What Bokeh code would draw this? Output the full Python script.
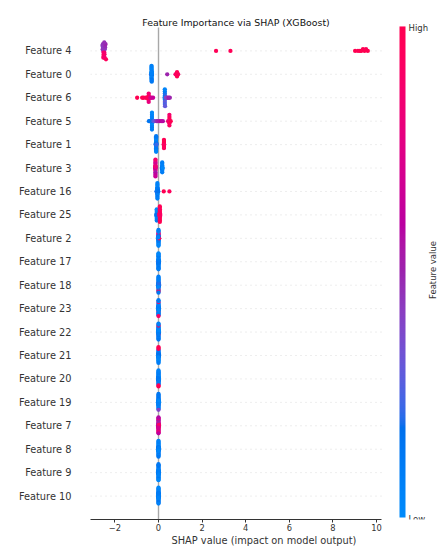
import numpy as np
from bokeh.plotting import figure
from bokeh.models import Range1d, FixedTicker, LinearColorMapper, ColumnDataSource
from bokeh.transform import linear_cmap
from bokeh.embed import file_html
from bokeh.resources import INLINE
from bokeh.core.properties import value

# ---------------- data ----------------
FEATURE_NAMES = ["Feature 4", "Feature 0", "Feature 6", "Feature 5", "Feature 1",
                 "Feature 3", "Feature 16", "Feature 25", "Feature 2", "Feature 17",
                 "Feature 18", "Feature 23", "Feature 22", "Feature 21", "Feature 20",
                 "Feature 19", "Feature 7", "Feature 8", "Feature 9", "Feature 10"]

X_TICKS = [-2, 0, 2, 4, 6, 8, 10]
X_TICK_LABELS = ["\u22122", "0", "2", "4", "6", "8", "10"]

f4_shap = [-2.53, -2.50, -2.56, -2.47, -2.52, -2.49, -2.54, -2.45, -2.51, -2.48,
           -2.57, -2.46, -2.52, -2.50, -2.55, -2.43, -2.53, -2.47, -2.49, -2.41,
           2.64, 3.30, 9.02, 9.15, 9.24, 9.30, 9.38, 9.45, 9.52, 9.60]
f4_val = [0.62, 0.65, 0.45, 0.42, 0.85, 0.88, 0.44, 0.46, 0.90, 0.86,
          0.43, 0.48, 0.88, 0.92, 0.45, 0.50, 0.90, 0.85, 0.47, 0.95,
          0.97, 0.98, 1.00, 1.00, 0.98, 1.00, 0.99, 1.00, 0.97, 1.00]

f0_shap = [-0.32, -0.32, -0.31, -0.33, -0.32, -0.32, -0.31, -0.34, -0.32, -0.32,
           -0.30, -0.32, -0.33, -0.32, -0.31, -0.32, -0.32, -0.30, -0.32, -0.31,
           -0.32, 0.40, 0.78, 0.85, 0.83, 0.85, 0.85, 0.90, 0.85, 0.85]
f0_val = [0.05, 0.10, 0.12, 0.08, 0.00, 0.15, 0.05, 0.20, 0.02, 0.10,
          0.12, 0.06, 0.00, 0.09, 0.14, 0.03, 0.11, 0.07, 0.04, 0.13,
          0.08, 0.50, 0.85, 0.95, 0.90, 1.00, 0.92, 0.88, 0.97, 1.00]

f6_shap = [0.29, 0.29, 0.31, 0.29, 0.35, 0.29, 0.28, 0.29, 0.40, 0.29,
           0.33, 0.29, 0.46, 0.29, 0.30, 0.52, -0.45, -0.45, -0.46, -0.45,
           -0.44, -0.45, -0.52, -0.38, -0.58, -0.32, -0.25, -0.75, -0.68, -0.98]
f6_val = [0.05, 0.15, 0.35, 0.10, 0.45, 0.20, 0.08, 0.30, 0.50, 0.12,
          0.40, 0.25, 0.55, 0.05, 0.30, 0.50, 0.95, 1.00, 0.90, 0.85,
          0.95, 0.80, 1.00, 0.75, 0.98, 0.70, 0.65, 1.00, 0.98, 1.00]

f5_shap = [-0.30, -0.30, -0.28, -0.30, -0.33, -0.30, -0.26, -0.30, -0.36, -0.30,
           -0.40, -0.30, -0.22, -0.30, -0.44, -0.30, -0.18, -0.10, -0.04, 0.04,
           0.12, 0.20, 0.50, 0.50, 0.44, 0.50, 0.50, 0.56, 0.50, 0.50]
f5_val = [0.05, 0.10, 0.15, 0.00, 0.20, 0.08, 0.12, 0.03, 0.18, 0.06,
          0.22, 0.10, 0.25, 0.02, 0.15, 0.09, 0.30, 0.45, 0.50, 0.55,
          0.60, 0.58, 0.90, 1.00, 0.85, 0.95, 0.98, 1.00, 0.92, 0.88]

f1_shap = [-0.11, -0.11, -0.12, -0.11, -0.10, -0.11, -0.11, -0.13, -0.11, -0.11,
           -0.12, -0.11, -0.11, -0.10, -0.11, -0.11, -0.09, -0.11, -0.11, -0.11,
           0.25, 0.25, 0.24, 0.25, 0.25, 0.26, 0.25, 0.25, 0.25, 0.25]
f1_val = [0.02, 0.10, 0.05, 0.15, 0.08, 0.00, 0.12, 0.20, 0.04, 0.09,
          0.18, 0.06, 0.11, 0.14, 0.03, 0.07, 0.22, 0.10, 0.05, 0.13,
          0.95, 1.00, 0.90, 0.98, 1.00, 0.92, 0.97, 1.00, 0.94, 0.99]

f3_shap = [-0.14, -0.14, -0.15, -0.14, -0.13, -0.14, -0.14, -0.16, -0.14, -0.14,
           -0.15, -0.14, -0.14, -0.13, -0.14, -0.14, -0.14, -0.14, 0.17, 0.17,
           0.16, 0.17, 0.17, 0.18, 0.17, 0.15, 0.17, 0.17, 0.19, 0.17]
f3_val = [0.60, 0.75, 0.55, 0.80, 0.65, 0.70, 0.85, 0.60, 0.78, 0.52,
          0.90, 0.68, 0.58, 0.82, 0.72, 0.62, 0.88, 0.66, 0.05, 0.10,
          0.00, 0.15, 0.08, 0.12, 0.03, 0.18, 0.06, 0.10, 0.02, 0.09]

f16_shap = [-0.05, -0.06, -0.05, -0.04, -0.05, -0.07, -0.05, -0.03, -0.05, -0.06,
            -0.05, -0.04, -0.08, -0.05, -0.02, -0.05, -0.06, -0.04, -0.05, -0.09,
            -0.05, -0.07, -0.05, -0.03, -0.06, -0.04, -0.05, -0.01, 0.24, 0.50]
f16_val = [0.05, 0.10, 0.15, 0.02, 0.08, 0.12, 0.00, 0.18, 0.06, 0.09,
           0.14, 0.03, 0.20, 0.07, 0.11, 0.04, 0.16, 0.01, 0.13, 0.19,
           0.05, 0.10, 0.08, 0.15, 0.02, 0.12, 0.06, 0.17, 1.00, 0.95]

f25_shap = [-0.08, -0.08, -0.09, -0.08, -0.08, -0.07, -0.08, -0.08, -0.10, -0.08,
            -0.08, -0.08, 0.06, 0.06, 0.05, 0.06, 0.06, 0.07, 0.06, 0.06,
            0.04, 0.06, 0.06, 0.05, 0.06, 0.06, 0.08, 0.06, 0.07, 0.06]
f25_val = [0.05, 0.10, 0.15, 0.00, 0.08, 0.12, 0.03, 0.06, 0.18, 0.09,
           0.02, 0.11, 0.95, 1.00, 0.90, 0.98, 1.00, 0.92, 0.97, 1.00,
           0.88, 0.99, 0.95, 0.93, 1.00, 0.96, 0.90, 1.00, 0.94, 0.98]

f2_shap = [0.00, 0.00, 0.01, 0.00, -0.01, 0.00, 0.00, 0.01, 0.00, -0.01,
           0.00, 0.00, 0.02, 0.00, -0.01, 0.00, 0.00, 0.01, 0.00, -0.02,
           0.00, 0.00, 0.01, 0.00, -0.01, 0.00, 0.00, 0.03, 0.00, -0.02]
f2_val = [0.05, 0.10, 0.15, 0.02, 0.08, 0.70, 0.12, 0.20, 0.04, 0.10,
          0.06, 0.90, 0.14, 0.03, 0.09, 0.60, 0.11, 0.18, 0.85, 0.07,
          0.13, 0.05, 0.16, 0.01, 0.12, 0.08, 0.04, 0.95, 0.10, 0.06]

f17_shap = [0.00, 0.01, 0.00, 0.00, -0.01, 0.00, 0.01, 0.00, 0.00, -0.01,
            0.00, 0.02, 0.00, 0.00, -0.01, 0.00, 0.01, 0.00, -0.02, 0.00,
            0.00, 0.01, 0.00, -0.01, 0.00, 0.00, 0.02, 0.00, -0.01, 0.00]
f17_val = [0.05, 0.12, 0.08, 0.02, 0.15, 0.10, 0.04, 0.18, 0.06, 0.11,
           0.03, 0.14, 0.09, 0.07, 0.16, 0.01, 0.13, 0.05, 0.20, 0.10,
           0.08, 0.02, 0.12, 0.06, 0.17, 0.04, 0.11, 0.09, 0.14, 0.03]

f18_shap = [0.00, 0.00, 0.01, 0.00, -0.01, 0.00, 0.00, 0.01, 0.00, -0.01,
            0.00, 0.00, 0.02, 0.00, -0.01, 0.00, 0.00, 0.01, 0.00, -0.02,
            0.00, 0.00, 0.01, 0.00, -0.01, 0.00, 0.00, 0.02, 0.00, -0.01]
f18_val = [0.06, 0.10, 0.14, 0.95, 0.08, 0.03, 0.12, 0.18, 0.90, 0.10,
           0.05, 0.07, 0.15, 0.02, 0.09, 0.11, 1.00, 0.16, 0.04, 0.13,
           0.08, 0.12, 0.06, 0.92, 0.10, 0.05, 0.14, 0.20, 0.09, 0.01]

f23_shap = [0.00, 0.00, -0.01, 0.00, 0.01, 0.00, 0.00, -0.01, 0.00, 0.01,
            0.00, 0.00, -0.02, 0.00, 0.01, 0.00, 0.00, -0.01, 0.00, 0.02,
            0.00, 0.00, -0.01, 0.00, 0.01, 0.00, 0.00, -0.02, 0.00, 0.01]
f23_val = [0.08, 0.12, 0.05, 0.04, 0.16, 0.95, 0.10, 0.02, 0.07, 0.13,
           0.98, 0.06, 0.11, 0.03, 0.18, 0.09, 0.14, 0.05, 0.01, 0.12,
           0.07, 0.90, 0.15, 0.10, 0.04, 0.06, 0.93, 0.08, 0.11, 0.02]

f22_shap = [0.00, 0.01, 0.00, 0.00, -0.01, 0.00, 0.01, 0.00, 0.00, -0.01,
            0.00, 0.02, 0.00, 0.00, -0.01, 0.00, 0.01, 0.00, -0.02, 0.00,
            0.00, 0.01, 0.00, -0.01, 0.00, 0.00, 0.02, 0.00, -0.01, 0.00]
f22_val = [0.10, 0.05, 0.85, 0.12, 0.08, 0.03, 0.16, 0.06, 0.11, 0.14,
           0.80, 0.04, 0.09, 0.13, 0.02, 0.07, 0.18, 0.10, 0.05, 0.12,
           0.15, 0.01, 0.90, 0.06, 0.08, 0.11, 0.03, 0.14, 0.09, 0.07]

f21_shap = [0.00, 0.00, 0.01, 0.00, -0.01, 0.00, 0.00, 0.01, 0.00, -0.01,
            0.00, 0.00, 0.02, 0.00, -0.01, 0.00, 0.00, 0.01, 0.00, -0.02,
            0.00, 0.00, 0.01, 0.00, -0.01, 0.00, 0.00, 0.02, 0.00, -0.01]
f21_val = [0.06, 0.10, 0.14, 0.03, 0.08, 0.12, 0.05, 0.18, 0.09, 0.11,
           0.04, 0.15, 0.07, 0.02, 0.13, 0.10, 0.06, 0.16, 0.12, 0.08,
           0.01, 0.95, 0.11, 0.05, 0.14, 0.98, 0.09, 0.17, 1.00, 0.04]

f20_shap = [0.00, 0.00, -0.01, 0.00, 0.01, 0.00, 0.00, -0.01, 0.00, 0.01,
            0.00, 0.00, -0.02, 0.00, 0.01, 0.00, 0.00, -0.01, 0.00, 0.02,
            0.00, 0.00, -0.01, 0.00, 0.01, 0.00, 0.00, -0.02, 0.00, 0.01]
f20_val = [0.07, 0.11, 0.05, 0.14, 0.09, 0.03, 0.12, 0.16, 0.06, 0.10,
           0.13, 0.02, 0.08, 0.15, 0.04, 0.11, 0.07, 0.18, 0.10, 0.05,
           0.12, 0.09, 0.14, 0.95, 0.03, 0.08, 1.00, 0.13, 0.06, 0.10]

f19_shap = [0.00, 0.01, 0.00, 0.00, -0.01, 0.00, 0.01, 0.00, 0.00, -0.01,
            0.00, 0.02, 0.00, 0.00, -0.01, 0.00, 0.01, 0.00, -0.02, 0.00,
            0.00, 0.01, 0.00, -0.01, 0.00, 0.00, 0.02, 0.00, -0.01, 0.00]
f19_val = [0.09, 0.04, 0.13, 0.07, 0.11, 0.02, 0.16, 0.45, 0.06, 0.12,
           0.10, 0.03, 0.14, 0.08, 0.05, 0.17, 0.01, 0.11, 0.07, 0.13,
           0.04, 0.10, 0.15, 0.06, 0.09, 0.12, 0.02, 0.40, 0.08, 0.14]

f7_shap = [0.00, 0.00, 0.01, 0.00, -0.01, 0.00, 0.00, 0.01, 0.00, -0.01,
           0.00, 0.00, 0.02, 0.00, -0.01, 0.00, 0.00, 0.01, 0.00, -0.02,
           0.00, 0.00, 0.01, 0.00, -0.01, 0.00, 0.00, 0.02, 0.00, -0.01]
f7_val = [0.60, 0.55, 0.70, 0.85, 0.58, 0.65, 0.80, 0.52, 0.75, 0.62,
          0.90, 0.57, 0.68, 0.82, 0.54, 0.72, 0.60, 0.88, 0.50, 0.66,
          0.78, 0.56, 0.64, 0.86, 0.53, 0.74, 0.61, 0.92, 0.58, 0.70]

f8_shap = [0.00, 0.01, 0.00, 0.00, -0.01, 0.00, 0.01, 0.00, 0.00, -0.01,
           0.00, 0.02, 0.00, 0.00, -0.01, 0.00, 0.01, 0.00, -0.02, 0.00,
           0.00, 0.01, 0.00, -0.01, 0.00, 0.00, 0.02, 0.00, -0.01, 0.00]
f8_val = [0.04, 0.10, 0.07, 0.13, 0.02, 0.16, 0.09, 0.05, 0.12, 0.08,
          0.15, 0.03, 0.11, 0.06, 0.18, 0.01, 0.10, 0.14, 0.07, 0.04,
          0.12, 0.09, 0.02, 0.16, 0.05, 0.11, 0.08, 0.13, 0.03, 0.06]

f9_shap = [0.00, 0.00, -0.01, 0.00, 0.01, 0.00, 0.00, -0.01, 0.00, 0.01,
           0.00, 0.00, -0.02, 0.00, 0.01, 0.00, 0.00, -0.01, 0.00, 0.02,
           0.00, 0.00, -0.01, 0.00, 0.01, 0.00, 0.00, -0.02, 0.00, 0.01]
f9_val = [0.08, 0.03, 0.12, 0.06, 0.15, 0.10, 0.02, 0.14, 0.07, 0.11,
          0.04, 0.17, 0.09, 0.13, 0.01, 0.10, 0.06, 0.16, 0.05, 0.12,
          0.08, 0.14, 0.03, 0.11, 0.07, 0.15, 0.02, 0.09, 0.13, 0.05]

f10_shap = [0.00, 0.00, 0.01, 0.00, -0.01, 0.00, 0.00, 0.01, 0.00, -0.01,
            0.00, 0.00, 0.01, 0.00, -0.01, 0.00, 0.00, 0.01, 0.00, -0.01,
            0.00, 0.00, 0.01, 0.00, -0.01, 0.00, 0.00, 0.01, 0.00, -0.01]
f10_val = [0.06, 0.11, 0.03, 0.14, 0.08, 0.12, 0.05, 0.16, 0.09, 0.02,
           0.13, 0.07, 0.10, 0.04, 0.15, 0.06, 0.11, 0.01, 0.12, 0.08,
           0.14, 0.03, 0.09, 0.17, 0.05, 0.10, 0.07, 0.13, 0.02, 0.11]

SHAP_LISTS = [f4_shap, f0_shap, f6_shap, f5_shap, f1_shap, f3_shap, f16_shap, f25_shap,
              f2_shap, f17_shap, f18_shap, f23_shap, f22_shap, f21_shap, f20_shap,
              f19_shap, f7_shap, f8_shap, f9_shap, f10_shap]
VALUE_LISTS = [f4_val, f0_val, f6_val, f5_val, f1_val, f3_val, f16_val, f25_val,
               f2_val, f17_val, f18_val, f23_val, f22_val, f21_val, f20_val,
               f19_val, f7_val, f8_val, f9_val, f10_val]

# ---------------- layout constants ----------------
X_LO, X_HI = -3.12, 10.23          # data span of the SHAP axis
FRAME_L = 90                        # px, left border of the frame
AXIS_PX = 291                       # px width of the SHAP axis span
FIG_W, FIG_H = 437, 548
PX_PER_UNIT = AXIS_PX / (X_HI - X_LO)
X_END = X_LO + (FIG_W - FRAME_L) / PX_PER_UNIT
N_ROWS = len(FEATURE_NAMES)
FRAME_BOTTOM = 520
ROW_TOP_PX = 27
PX_PER_ROW = (FRAME_BOTTOM - ROW_TOP_PX) / (N_ROWS + 1)
Y_END = N_ROWS + ROW_TOP_PX / PX_PER_ROW


def xpix(px):
    """figure pixel column -> data x"""
    return X_LO + (px - FRAME_L) / PX_PER_UNIT


def ypix(py):
    """figure pixel row -> data y"""
    return Y_END - py / PX_PER_ROW


# ---------------- SHAP red_blue colormap (LCH interpolation) ----------------
def lch_to_hex(l, c, h):
    a, b = c * np.cos(h), c * np.sin(h)
    fy = (l + 16.0) / 116.0
    fx, fz = fy + a / 500.0, fy - b / 200.0

    def finv(t):
        return t ** 3 if t ** 3 > 0.008856 else (t - 16.0 / 116.0) / 7.787

    X, Y, Z = 0.95047 * finv(fx), finv(fy), 1.08883 * finv(fz)
    rgb = (3.2404542 * X - 1.5371385 * Y - 0.4985314 * Z,
           -0.9692660 * X + 1.8760108 * Y + 0.0415560 * Z,
           0.0556434 * X - 0.2040259 * Y + 1.0572252 * Z)

    def gam(v):
        v = 1.055 * v ** (1 / 2.4) - 0.055 if v > 0.0031308 else 12.92 * v
        return min(max(v, 0.0), 1.0)

    return "#%02x%02x%02x" % tuple(int(round(gam(v) * 255)) for v in rgb)


blue_lch = (54.0, 70.0, 4.6588)
red_lch = (54.0, 90.0, 0.35470565 + 2 * np.pi)
l_mid = 40.0
PALETTE = []
for t in np.linspace(0, 1, 256):
    l = blue_lch[0] + (l_mid - blue_lch[0]) * (1 - abs(2 * t - 1))
    c = blue_lch[1] + (red_lch[1] - blue_lch[1]) * t
    h = blue_lch[2] + (red_lch[2] - blue_lch[2]) * t
    PALETTE.append(lch_to_hex(l, c, h))


# ---------------- beeswarm layout (shap's binning rule) ----------------
def swarm_offsets(shaps, nbins=100, row_height=0.4):
    shaps = np.asarray(shaps, dtype=float)
    quant = np.round(nbins * (shaps - shaps.min()) / (shaps.max() - shaps.min() + 1e-8))
    inds = np.argsort(quant, kind="stable")
    ys = np.zeros(len(shaps))
    layer, last_bin = 0, None
    for ind in inds:
        if quant[ind] != last_bin:
            layer = 0
        ys[ind] = np.ceil(layer / 2) * ((layer % 2) * 2 - 1)
        layer += 1
        last_bin = quant[ind]
    top = np.max(np.abs(ys))
    if top > 0:
        ys *= 0.9 * row_height / top
    return ys


xs, ys, fvs = [], [], []
row_pos = []
for i, (name, sv, fv) in enumerate(zip(FEATURE_NAMES, SHAP_LISTS, VALUE_LISTS)):
    pos = N_ROWS - 1 - i
    row_pos.append(pos)
    off = swarm_offsets(sv)
    xs.extend(sv)
    ys.extend(list(pos + off))
    fvs.extend(fv)
src = ColumnDataSource(dict(x=xs, y=ys, fv=fvs))

# ---------------- figure ----------------
p = figure(width=FIG_W, height=FIG_H, output_backend="svg", toolbar_location=None,
           x_range=Range1d(X_LO, X_END), y_range=Range1d(-1, Y_END),
           min_border_left=FRAME_L, min_border_right=0, min_border_top=0,
           min_border_bottom=FIG_H - FRAME_BOTTOM)
p.outline_line_color = None
p.xgrid.visible = False
p.ygrid.visible = False
p.background_fill_color = "white"
p.border_fill_color = "white"

FONT = "DejaVu Sans"
AX_COLOR = "#333333"

# x axis
xa = p.xaxis[0]
xa.bounds = (X_LO, X_HI)
xa.ticker = FixedTicker(ticks=X_TICKS)
xa.major_label_overrides = {t: l for t, l in zip(X_TICKS, X_TICK_LABELS)}
xa.axis_line_color = AX_COLOR
xa.axis_line_width = 1
xa.major_tick_line_color = AX_COLOR
xa.major_tick_out = 3
xa.major_tick_in = 0
xa.minor_tick_line_color = None
xa.major_label_text_font = FONT
xa.major_label_text_font_size = "8.3px"
xa.major_label_text_color = AX_COLOR
xa.major_label_standoff = 1
xa.axis_label = "SHAP value (impact on model output)"
xa.axis_label_text_font = FONT
xa.axis_label_text_font_size = "9.8px"
xa.axis_label_text_font_style = "normal"
xa.axis_label_text_color = AX_COLOR
xa.axis_label_standoff = 1

# y axis (feature names)
ya = p.yaxis[0]
ya.ticker = FixedTicker(ticks=row_pos)
ya.major_label_overrides = {pos: name for pos, name in zip(row_pos, FEATURE_NAMES)}
ya.axis_line_color = None
ya.major_tick_line_color = None
ya.minor_tick_line_color = None
ya.major_tick_out = 0
ya.major_tick_in = 0
ya.major_label_standoff = 19
ya.major_label_text_font = FONT
ya.major_label_text_font_size = "9.8px"
ya.major_label_text_color = AX_COLOR

# dotted row guides and zero line
p.segment(x0=X_LO, x1=X_HI, y0=row_pos, y1=row_pos, line_color="#cccccc",
          line_width=0.7, line_dash="1 4")
p.segment(x0=[0], x1=[0], y0=[-1], y1=[N_ROWS], line_color="#a8a8a8", line_width=1.4)

# points
p.scatter("x", "y", source=src, size=4.3, line_color=None,
          fill_color=linear_cmap("fv", PALETTE, 0, 1))

# title
p.text(x=[(X_LO + X_HI) / 2], y=[ypix(22.5)],
       text=["Feature Importance via SHAP (XGBoost)"],
       text_align="center", text_baseline="alphabetic",
       text_font=value(FONT), text_font_size="9.4px", text_color="#111111")

# colour bar
mapper = LinearColorMapper(palette=PALETTE, low=0, high=1)
ramp = np.linspace(0, 1, 256).reshape(-1, 1)
cb_x0, cb_x1 = xpix(399), xpix(405)
cb_y0, cb_y1 = ypix(518), ypix(26)
p.image(image=[ramp], x=cb_x0, y=cb_y0, dw=cb_x1 - cb_x0, dh=cb_y1 - cb_y0,
        color_mapper=mapper)
p.text(x=[xpix(408), xpix(408)], y=[ypix(28), ypix(519)], text=["High", "Low"],
       text_align="left", text_baseline="middle", text_font=value(FONT),
       text_font_size="8.5px", text_color=AX_COLOR)
p.text(x=[xpix(432)], y=[ypix(270)], text=["Feature value"],
       angle=np.pi / 2, text_align="center", text_baseline="middle",
       text_font=value(FONT), text_font_size="8.5px", text_color=AX_COLOR)

open("out.html", "w").write(file_html(p, INLINE))
